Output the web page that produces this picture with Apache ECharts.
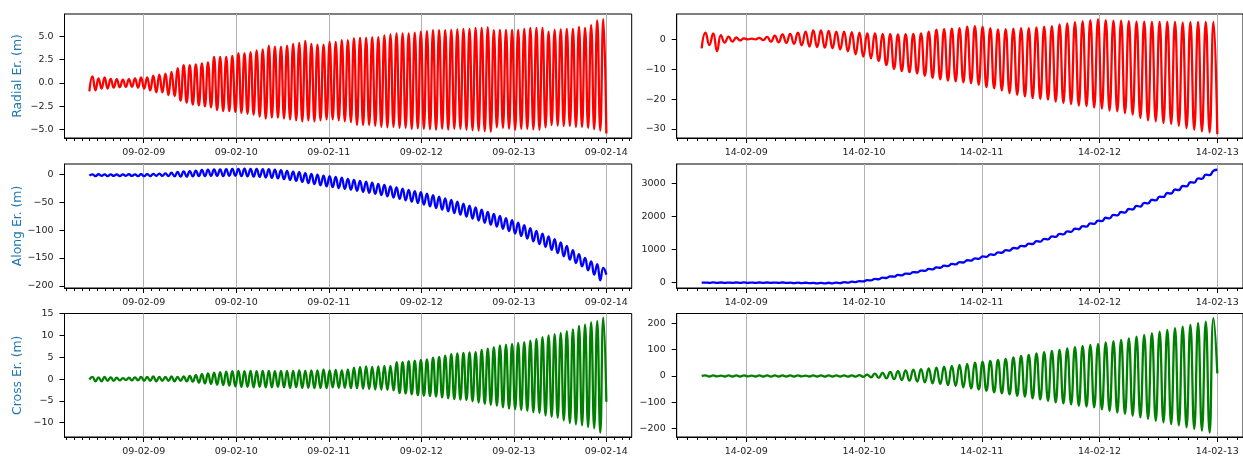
<!DOCTYPE html>
<html>
<head>
<meta charset="utf-8">
<script src="https://cdn.jsdelivr.net/npm/echarts@6/dist/echarts.min.js"></script>
<style>
  html, body { margin: 0; padding: 0; background: #fff; }
  #chart { width: 1243px; height: 457px; }
</style>
</head>
<body>
<div id="chart"></div>
<script>
// Orbit error components over two propagation arcs.
// Time is in days counted from the first labelled date of each arc.
// Each oscillating series is stored as its per-revolution maxima (Hi) and
// minima (Lo), plus the first and last samples (Ends).

const leftDayLabels  = ['09-02-09', '09-02-10', '09-02-11', '09-02-12', '09-02-13', '09-02-14'];
const rightDayLabels = ['14-02-09', '14-02-10', '14-02-11', '14-02-12', '14-02-13'];

const leftSpan  = [-0.587, 5.0];   // 09-02-08 10:00 .. 09-02-14 00:00
const rightSpan = [-0.378, 4.0];   // 14-02-08 15:00 .. 14-02-13 00:00

// ---- first arc (09-02) ----
const radialLeftEnds = [-0.9, -5.4];
const radialLeftHi = [
  0.7, 0.5, 0.6, 0.45, 0.4, 0.35, 0.4, 0.5, 0.6, 0.6,
  0.8, 0.9, 1.0, 1.2, 1.6, 1.9, 1.9, 2.0, 2.1, 2.2,
  2.8, 2.8, 2.8, 2.9, 3.2, 3.2, 3.3, 3.5, 3.6, 4.0,
  3.9, 3.9, 4.0, 4.2, 4.3, 4.5, 4.2, 4.1, 4.1, 4.4,
  4.4, 4.6, 4.6, 4.8, 4.85, 4.85, 4.9, 4.9, 5.1, 5.2,
  5.3, 5.3, 5.3, 5.4, 5.5, 5.55, 5.65, 5.65, 5.65, 5.7,
  5.75, 5.8, 5.8, 5.9, 5.9, 5.95, 5.65, 5.7, 5.7, 5.7,
  5.7, 5.8, 5.9, 5.9, 5.9, 5.5, 5.7, 5.75, 5.8, 5.8,
  6.0, 5.9, 6.2, 6.7, 6.85
];
const radialLeftLo = [
  -0.8, -0.6, -0.6, -0.5, -0.45, -0.4, -0.4, -0.5, -0.6, -0.8,
  -1.0, -1.0, -1.3, -1.4, -1.9, -2.1, -2.3, -2.4, -2.5, -2.6,
  -2.9, -3.0, -3.0, -3.1, -3.2, -3.3, -3.4, -3.6, -3.8, -3.7,
  -3.7, -3.8, -3.9, -4.0, -4.1, -4.0, -4.1, -4.0, -3.9, -3.9,
  -4.0, -4.1, -4.2, -4.5, -4.5, -4.5, -4.6, -4.7, -4.75, -4.7,
  -4.8, -4.8, -4.9, -4.85, -4.9, -4.95, -5.0, -4.9, -5.0, -4.9,
  -4.9, -5.0, -5.05, -5.1, -5.15, -5.2, -4.75, -4.8, -4.9, -5.0,
  -4.9, -4.9, -4.95, -5.0, -4.75, -4.5, -4.55, -4.6, -4.6, -4.7,
  -4.7, -4.8, -4.95, -5.1
];

const alongLeftEnds = [-1.8, -180];
const alongLeftHi = [
  0.5, 0.8, 0.6, 0.7, 0.5, 0.6, 0.8, 0.6, 0.9, 1.2,
  1.5, 2.0, 2.5, 3.5, 5.0, 6.0, 6.5, 7.5, 8.5, 9.0,
  9.5, 9.5, 10.0, 10.5, 10.5, 11.0, 10.5, 10.5, 10.0, 10.0,
  9.0, 8.0, 7.0, 5.5, 4.5, 3.0, 1.5, 0.0, -1.5, -2.5,
  -4.0, -5.5, -7.5, -9.5, -11.0, -12.5, -14.5, -16.5, -18.5, -21.0,
  -23.0, -25.0, -27.5, -29.5, -31.5, -34.0, -37.0, -39.5, -42.5, -45.5,
  -48.5, -52.0, -55.5, -59.0, -63.0, -67.0, -70.5, -74.0, -78.0, -82.0,
  -86.5, -91.0, -96.0, -101.0, -106.0, -111.0, -116.0, -122.0, -128.0, -136.0,
  -143.0, -150.0, -156.0, -161.0, -168.0
];
const alongLeftLo = [
  -2.5, -2.0, -2.5, -2.2, -2.5, -2.0, -2.2, -2.5, -2.5, -2.5,
  -2.0, -2.0, -2.5, -3.0, -3.5, -3.5, -3.0, -2.5, -2.5, -2.0,
  -2.0, -2.5, -2.0, -2.0, -2.5, -3.0, -3.5, -4.0, -5.0, -5.5,
  -6.5, -8.0, -9.5, -11.0, -13.0, -15.0, -17.0, -19.0, -21.0, -22.5,
  -24.0, -25.5, -27.0, -29.0, -31.0, -32.5, -34.5, -36.5, -39.0, -41.0,
  -43.5, -46.0, -48.5, -51.0, -54.0, -57.0, -60.0, -63.0, -66.0, -69.0,
  -72.0, -75.5, -79.0, -82.5, -86.5, -90.0, -93.5, -97.5, -101.5, -106.0,
  -110.5, -115.0, -120.0, -125.0, -130.0, -135.5, -141.0, -147.0, -153.0, -159.0,
  -165.0, -172.0, -180.0, -190.0
];

const crossLeftEnds = [-0.1, -5.2];
const crossLeftHi = [
  0.5, 0.4, 0.5, 0.4, 0.3, 0.2, 0.3, 0.4, 0.5, 0.5,
  0.6, 0.5, 0.5, 0.6, 0.5, 0.6, 0.7, 0.9, 1.1, 1.3,
  1.5, 1.6, 1.7, 1.8, 1.9, 1.8, 1.9, 1.8, 1.9, 1.9,
  1.8, 1.9, 1.9, 1.9, 2.0, 1.9, 2.0, 2.0, 2.2, 2.0,
  2.1, 2.0, 2.2, 2.6, 2.8, 2.9, 2.8, 2.9, 3.0, 3.0,
  3.9, 3.9, 4.1, 4.2, 4.4, 4.5, 4.9, 5.1, 5.4, 5.7,
  5.9, 6.0, 6.1, 6.2, 6.7, 7.0, 7.3, 7.7, 7.9, 8.1,
  8.3, 8.5, 8.8, 9.2, 9.6, 10.0, 10.3, 10.6, 11.0, 11.4,
  12.2, 12.5, 13.0, 13.3, 14.1
];
const crossLeftLo = [
  -0.5, -0.5, -0.4, -0.4, -0.3, -0.2, -0.3, -0.3, -0.4, -0.4,
  -0.5, -0.4, -0.4, -0.5, -0.4, -0.5, -0.6, -0.8, -1.0, -1.1,
  -1.3, -1.4, -1.5, -1.7, -1.8, -1.8, -1.9, -1.8, -1.9, -1.9,
  -1.8, -1.9, -2.0, -1.9, -2.0, -2.0, -2.1, -2.1, -2.1, -1.9,
  -2.0, -2.0, -2.1, -2.1, -2.2, -2.3, -2.4, -2.4, -2.5, -2.6,
  -3.2, -3.3, -3.5, -3.7, -3.8, -3.9, -4.0, -4.2, -4.4, -4.6,
  -4.7, -4.8, -5.1, -5.4, -5.7, -5.9, -6.1, -6.5, -6.8, -6.9,
  -7.1, -7.3, -7.6, -7.8, -8.4, -8.7, -8.9, -9.5, -10.1, -10.4,
  -10.6, -11.0, -11.3, -12.3
];

// ---- second arc (14-02) ----
const radialRightEnds = [-3.0, -31.7];
const radialRightHi = [
  2.2, 2.0, 1.4, 0.9, 0.6, 0.3, 0.2, 0.5, 0.8, 1.2,
  1.6, 1.8, 2.2, 2.6, 3.0, 3.0, 2.8, 2.6, 2.6, 2.4,
  2.2, 2.0, 2.0, 1.8, 1.7, 1.6, 1.7, 1.8, 2.0, 2.6,
  3.2, 3.4, 3.6, 3.7, 4.2, 4.4, 4.2, 3.7, 3.3, 3.4,
  3.6, 3.7, 3.7, 4.0, 4.2, 4.4, 5.0, 5.3, 5.7, 6.1,
  6.4, 6.7, 6.4, 6.2, 6.2, 6.1, 5.9, 5.9, 5.8, 5.8,
  5.8, 5.8, 5.6, 5.7, 5.8, 5.8, 5.8
];
const radialRightLo = [
  -1.9, -4.0, -1.1, -0.8, -0.4, 0.0, 0.0, -0.3, -0.8, -1.0,
  -1.2, -1.5, -2.0, -2.4, -2.6, -2.8, -3.0, -3.4, -4.0, -5.0,
  -5.8, -6.4, -7.2, -8.6, -9.9, -10.6, -11.0, -11.4, -12.2, -12.9,
  -13.4, -13.8, -14.1, -14.4, -14.7, -15.2, -16.0, -16.4, -17.1, -18.0,
  -18.6, -19.1, -19.7, -20.0, -20.2, -20.8, -21.3, -21.7, -22.2, -22.4,
  -22.8, -23.2, -23.8, -24.1, -24.7, -25.2, -26.3, -27.1, -27.4, -28.0,
  -28.3, -28.9, -29.7, -30.2, -30.8, -31.1
];

const alongRightEnds = [0, 3410];
const alongRightHi = [
  5, 7, 6, 5, 6, 7, 5, 6, 6, 5,
  6, 3, 1, -2, -4, -4, -2, 5, 15, 30,
  50, 78, 114, 153, 192, 234, 276, 321, 367, 415,
  463, 515, 567, 622, 677, 735, 793, 855, 917, 981,
  1047, 1114, 1182, 1253, 1325, 1398, 1474, 1551, 1629, 1710,
  1791, 1874, 1960, 2046, 2134, 2225, 2316, 2409, 2504, 2600,
  2707, 2813, 2919, 3032, 3147, 3263, 3379
];
const alongRightLo = [
  -6, -5, -7, -6, -6, -5, -7, -6, -6, -6,
  -8, -10, -13, -15, -19, -19, -18, -10, 0, 16,
  37, 68, 104, 142, 182, 223, 265, 310, 356, 403,
  452, 503, 555, 610, 665, 722, 781, 842, 904, 968,
  1033, 1100, 1168, 1239, 1310, 1384, 1459, 1536, 1614, 1695,
  1775, 1859, 1944, 2030, 2118, 2209, 2299, 2393, 2487, 2588,
  2693, 2798, 2906, 3020, 3134, 3249
];

const crossRightEnds = [0, 10];
const crossRightHi = [
  2, 2, 1.5, 2, 2.5, 2, 1.5, 2, 2, 2,
  2.5, 2, 2, 1.5, 2, 2, 2.5, 2, 2, 2.5,
  3, 5, 9, 12, 15, 18, 21, 24, 26, 29,
  32, 35, 38, 42, 46, 51, 53, 57, 61, 65,
  70, 76, 80, 86, 90, 95, 99, 105, 109, 114,
  118, 122, 127, 132, 137, 143, 149, 156, 162, 168,
  175, 181, 187, 194, 200, 206, 219
];
const crossRightLo = [
  -2, -1.5, -2, -2, -2, -1.5, -2, -2, -2.5, -2,
  -2, -2, -1.5, -2, -2, -2.5, -2, -2, -2.5, -2.5,
  -3, -5, -7, -9, -12, -15, -18, -21, -24, -28,
  -30, -35, -38, -43, -47, -51, -56, -62, -66, -70,
  -75, -78, -85, -89, -94, -100, -104, -108, -113, -116,
  -119, -127, -133, -139, -144, -151, -157, -163, -170, -176,
  -182, -187, -195, -201, -207, -215
];

// y tick values per panel
const radialLeftTicks  = [-5, -2.5, 0, 2.5, 5];
const alongLeftTicks   = [-200, -150, -100, -50, 0];
const crossLeftTicks   = [-10, -5, 0, 5, 10, 15];
const radialRightTicks = [-30, -20, -10, 0];
const alongRightTicks  = [0, 1000, 2000, 3000];
const crossRightTicks  = [-200, -100, 0, 100, 200];

// ---------------------------------------------------------------
const FONT = 'DejaVu Sans';
const minusSign = s => String(s).replace(/-/g, '\u2212');

// interleave first sample, maxima, minima and last sample
function weave(ends, hi, lo) {
  const v = [ends[0]];
  for (let i = 0; i < hi.length; i++) {
    v.push(hi[i]);
    if (i < lo.length) v.push(lo[i]);
  }
  v.push(ends[1]);
  return v;
}
// samples are evenly spaced in time over the arc
function stamp(values, span) {
  const step = (span[1] - span[0]) / (values.length - 1);
  return values.map((y, i) => [span[0] + i * step, y]);
}
// two-hour minor ticks
function minorTicks(min, max) {
  const out = [];
  for (let i = Math.ceil(min * 12); i <= Math.floor(max * 12); i++) {
    if (i % 12 !== 0) out.push(i / 12);
  }
  return out;
}

const LEFT_X  = { left: 64.5, width: 567.2, min: -0.856, max: 5.274, labels: leftDayLabels, span: leftSpan };
const RIGHT_X = { left: 676.7, width: 567.3, min: -0.590, max: 4.218, labels: rightDayLabels, span: rightSpan };
const ROWS = [{ top: 14, height: 124 }, { top: 164, height: 124 }, { top: 313.5, height: 123.5 }];

const panels = [
  { col: LEFT_X,  row: 0, name: 'Radial Er. (m)', color: '#ff0000', y: [-5.89, 7.39], ticks: radialLeftTicks, dec: 1,
    data: weave(radialLeftEnds, radialLeftHi, radialLeftLo) },
  { col: LEFT_X,  row: 1, name: 'Along Er. (m)',  color: '#0000ff', y: [-204, 19.3], ticks: alongLeftTicks, dec: 0,
    data: weave(alongLeftEnds, alongLeftHi, alongLeftLo) },
  { col: LEFT_X,  row: 2, name: 'Cross Er. (m)',  color: '#008000', y: [-13.3, 15.05], ticks: crossLeftTicks, dec: 0,
    data: weave(crossLeftEnds, crossLeftHi, crossLeftLo) },
  { col: RIGHT_X, row: 0, name: '', color: '#ff0000', y: [-33.0, 8.46], ticks: radialRightTicks, dec: 0,
    data: weave(radialRightEnds, radialRightHi, radialRightLo) },
  { col: RIGHT_X, row: 1, name: '', color: '#0000ff', y: [-160, 3583], ticks: alongRightTicks, dec: 0,
    data: weave(alongRightEnds, alongRightHi, alongRightLo) },
  { col: RIGHT_X, row: 2, name: '', color: '#008000', y: [-231.5, 237], ticks: crossRightTicks, dec: 0,
    data: weave(crossRightEnds, crossRightHi, crossRightLo) }
];

const grid = [], xAxis = [], yAxis = [], series = [];
const labelStyle = { fontFamily: FONT, fontSize: 9.5, color: '#222' };

panels.forEach((p, i) => {
  const c = p.col, r = ROWS[p.row];
  const majors = c.labels.map((_, k) => k);
  grid.push({ left: c.left, top: r.top, width: c.width, height: r.height,
              show: true, borderColor: '#000', borderWidth: 1, backgroundColor: 'transparent' });
  // major ticks, date labels and vertical grid lines
  xAxis.push({
    gridIndex: i, type: 'value', min: c.min, max: c.max, position: 'bottom',
    axisLine: { show: true, onZero: false, lineStyle: { color: '#000', width: 1 } },
    axisTick: { show: true, length: 5, customValues: majors, lineStyle: { color: '#000', width: 1 } },
    axisLabel: { show: true, customValues: majors, margin: 10, ...labelStyle,
                 formatter: v => c.labels[Math.round(v)] || '' },
    splitLine: { show: true, lineStyle: { color: '#b0b0b0', width: 1 } }
  });
  // two-hour minor ticks
  xAxis.push({
    gridIndex: i, type: 'value', min: c.min, max: c.max, position: 'bottom', offset: 0,
    axisLine: { show: false, onZero: false },
    axisTick: { show: true, length: 3, customValues: minorTicks(c.min, c.max), lineStyle: { color: '#000', width: 1 } },
    axisLabel: { show: false },
    splitLine: { show: false }
  });
  yAxis.push({
    gridIndex: i, type: 'value', min: p.y[0], max: p.y[1],
    axisLine: { show: true, onZero: false, lineStyle: { color: '#000', width: 1 } },
    axisTick: { show: true, length: 5, customValues: p.ticks, lineStyle: { color: '#000', width: 1 } },
    axisLabel: { show: true, customValues: p.ticks, margin: 11, ...labelStyle,
                 formatter: v => minusSign(Number(v).toFixed(p.dec)) },
    splitLine: { show: false },
    name: p.name, nameLocation: 'middle', nameGap: 41, nameRotate: 90,
    nameTextStyle: { color: '#1f77b4', fontSize: 12.4, fontFamily: FONT }
  });
  series.push({
    type: 'line', xAxisIndex: 2 * i, yAxisIndex: i,
    data: stamp(p.data, c.span),
    showSymbol: false, smooth: 0.5, animation: false, silent: true,
    lineStyle: { color: p.color, width: 2.3 }
  });
});

const chart = echarts.init(document.getElementById('chart'), null, { renderer: 'canvas' });
chart.setOption({ animation: false, backgroundColor: '#fff', grid, xAxis, yAxis, series });
</script>
</body>
</html>
